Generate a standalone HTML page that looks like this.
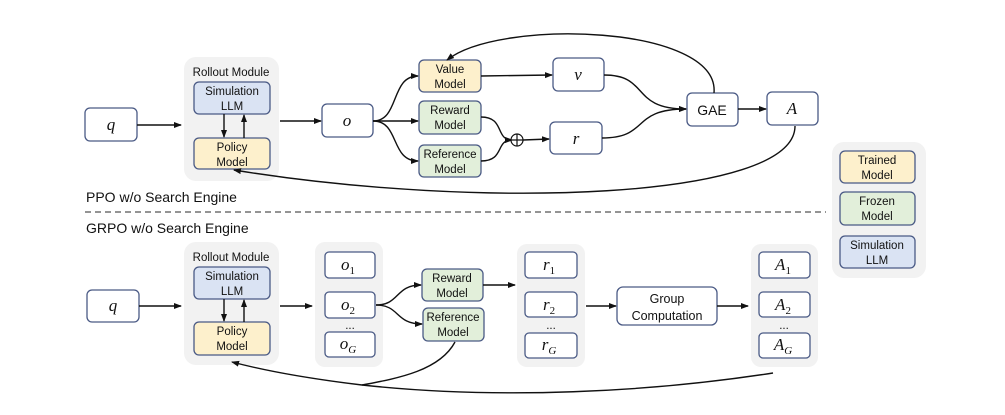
<!DOCTYPE html>
<html><head><meta charset="utf-8"><style>
html,body{margin:0;padding:0;background:#fff;}
svg{display:block;}
text{font-family:"Liberation Sans",sans-serif;fill:#111;}
text.m{font-family:"Liberation Serif",serif;font-style:italic;font-size:17px;}
.s{font-size:11.5px;}
</style></head><body>
<svg width="1005" height="415" viewBox="0 0 1005 415" xmlns="http://www.w3.org/2000/svg">
<defs><marker id="a" markerWidth="8" markerHeight="8" refX="7" refY="4" orient="auto" markerUnits="userSpaceOnUse"><path d="M0,1 L8,4 L0,7 z" fill="#111"/></marker></defs>
<g fill="#f2f2f2" stroke="none">
<rect x="184" y="57" width="95" height="124" rx="12"/>
<rect x="184" y="242" width="95" height="123" rx="12"/>
<rect x="315" y="242" width="68" height="125" rx="10"/>
<rect x="517" y="244" width="68" height="123" rx="10"/>
<rect x="751" y="244" width="67" height="123" rx="10"/>
<rect x="832" y="142" width="94" height="136" rx="12"/>
</g>
<g stroke="#4a5a85" stroke-width="1.3">
<rect x="85" y="108" width="52" height="33" rx="5" fill="#fff"/>
<rect x="194" y="82" width="76" height="32" rx="5" fill="#dae3f3"/>
<rect x="194" y="138" width="76" height="31" rx="5" fill="#fdf0cc"/>
<rect x="322" y="104" width="51" height="33" rx="5" fill="#fff"/>
<rect x="419" y="60" width="62" height="32" rx="5" fill="#fdf0cc"/>
<rect x="419" y="101" width="62" height="33" rx="5" fill="#e2efda"/>
<rect x="419" y="145" width="62" height="32" rx="5" fill="#e2efda"/>
<rect x="553" y="58" width="51" height="33" rx="5" fill="#fff"/>
<rect x="550" y="122" width="52" height="32" rx="5" fill="#fff"/>
<rect x="687" y="93" width="51" height="33" rx="5" fill="#fff"/>
<rect x="767" y="92" width="51" height="33" rx="5" fill="#fff"/>
<rect x="840" y="151" width="75" height="32" rx="5" fill="#fdf0cc"/>
<rect x="840" y="192" width="75" height="33" rx="5" fill="#e2efda"/>
<rect x="840" y="236" width="75" height="32" rx="5" fill="#dae3f3"/>
<rect x="87" y="290" width="52" height="32" rx="5" fill="#fff"/>
<rect x="194" y="267" width="76" height="32" rx="5" fill="#dae3f3"/>
<rect x="194" y="322" width="76" height="33" rx="5" fill="#fdf0cc"/>
<rect x="325" y="252" width="50" height="26" rx="4" fill="#fff"/>
<rect x="325" y="292" width="50" height="26" rx="4" fill="#fff"/>
<rect x="325" y="332" width="50" height="25" rx="4" fill="#fff"/>
<rect x="422" y="269" width="61" height="32" rx="5" fill="#e2efda"/>
<rect x="423" y="308" width="61" height="33" rx="5" fill="#e2efda"/>
<rect x="525" y="252" width="52" height="26" rx="4" fill="#fff"/>
<rect x="525" y="292" width="52" height="25" rx="4" fill="#fff"/>
<rect x="525" y="333" width="52" height="25" rx="4" fill="#fff"/>
<rect x="617" y="287" width="100" height="38" rx="6" fill="#fff"/>
<rect x="759" y="252" width="51" height="26" rx="4" fill="#fff"/>
<rect x="759" y="292" width="51" height="25" rx="4" fill="#fff"/>
<rect x="759" y="333" width="51" height="25" rx="4" fill="#fff"/>
</g>
<g fill="none" stroke="#111" stroke-width="1.4" marker-end="url(#a)">
<path d="M137,125 L181,125"/>
<path d="M224,114 L224,137"/>
<path d="M244,138 L244,115"/>
<path d="M280,121 L321,121"/>
<path d="M373,121 C400,121 390,76 418,76"/>
<path d="M373,121 L418,121"/>
<path d="M373,121 C400,121 390,161 418,161"/>
<path d="M481,76 L552,75"/>
<path d="M481,117 C505,117 495,140 512,140"/>
<path d="M481,161 C505,161 495,140 512,140"/>
<path d="M523,140 L549,139"/>
<path d="M604,75 C650,75 630,109 686,109"/>
<path d="M602,138 C650,138 630,109 686,109"/>
<path d="M738,109 L766,109"/>
<path d="M714,93 C720,25 500,18 447,60"/>
<path d="M795,126 C795,200 480,210 234,170"/>
<path d="M139,306 L181,306"/>
<path d="M224,299 L224,321"/>
<path d="M244,322 L244,300"/>
<path d="M280,306 L312,306"/>
<path d="M376,305 C400,305 395,285 421,285"/>
<path d="M376,305 C400,305 395,324 422,324"/>
<path d="M483,285 L515,285"/>
<path d="M586,306 L616,306"/>
<path d="M717,306 L748,306"/>
<path d="M773,373 C650,392 500,400 362,385 C320,380 270,372 232,362"/>
</g>
<path d="M455,342 C440,370 400,378 362,385" fill="none" stroke="#111" stroke-width="1.4"/>
<circle cx="517" cy="140" r="6" fill="#fff" stroke="#111" stroke-width="1.2"/>
<path d="M511,140 H523 M517,134 V146" stroke="#111" stroke-width="1.2"/>
<line x1="85" y1="212" x2="826" y2="212" stroke="#555" stroke-width="1.2" stroke-dasharray="6,4"/>
<g text-anchor="middle" class="s">
<text x="231" y="76">Rollout Module</text>
<text x="232" y="95">Simulation</text><text x="232" y="110">LLM</text>
<text x="232" y="151">Policy</text><text x="232" y="166">Model</text>
<text x="450" y="73">Value</text><text x="450" y="88">Model</text>
<text x="450" y="114">Reward</text><text x="450" y="129">Model</text>
<text x="450" y="158">Reference</text><text x="450" y="173">Model</text>
<text x="877" y="164">Trained</text><text x="877" y="179">Model</text>
<text x="877" y="205">Frozen</text><text x="877" y="220">Model</text>
<text x="877" y="249">Simulation</text><text x="877" y="264">LLM</text>
<text x="231" y="261">Rollout Module</text>
<text x="232" y="280">Simulation</text><text x="232" y="295">LLM</text>
<text x="232" y="335">Policy</text><text x="232" y="350">Model</text>
<text x="452" y="282">Reward</text><text x="452" y="297">Model</text>
<text x="453" y="321">Reference</text><text x="453" y="336">Model</text>
<text x="667" y="303" style="font-size:12.5px">Group</text><text x="667" y="320" style="font-size:12.5px">Computation</text>
<text x="712" y="115" style="font-size:14px">GAE</text>
<text x="350" y="329">...</text><text x="551" y="329">...</text><text x="784" y="329">...</text>
</g>
<g text-anchor="middle">
<text class="m" x="111" y="130">q</text>
<text class="m" x="347" y="126">o</text>
<text class="m" x="578" y="80">v</text>
<text class="m" x="576" y="144">r</text>
<text class="m" x="792" y="114">A</text>
<text class="m" x="113" y="311">q</text>
<text class="m" x="348" y="270">o<tspan font-size="11" font-style="normal" dy="4">1</tspan></text>
<text class="m" x="348" y="310">o<tspan font-size="11" font-style="normal" dy="4">2</tspan></text>
<text class="m" x="348" y="349">o<tspan font-size="11" dy="4">G</tspan></text>
<text class="m" x="549" y="270">r<tspan font-size="11" font-style="normal" dy="4">1</tspan></text>
<text class="m" x="549" y="310">r<tspan font-size="11" font-style="normal" dy="4">2</tspan></text>
<text class="m" x="549" y="350">r<tspan font-size="11" dy="4">G</tspan></text>
<text class="m" x="783" y="270">A<tspan font-size="11" font-style="normal" dy="4">1</tspan></text>
<text class="m" x="783" y="310">A<tspan font-size="11" font-style="normal" dy="4">2</tspan></text>
<text class="m" x="783" y="350">A<tspan font-size="11" dy="4">G</tspan></text>
</g>
<text x="86" y="202" style="font-size:14px">PPO w/o Search Engine</text>
<text x="86" y="233" style="font-size:14px">GRPO w/o Search Engine</text>
</svg>
</body></html>
